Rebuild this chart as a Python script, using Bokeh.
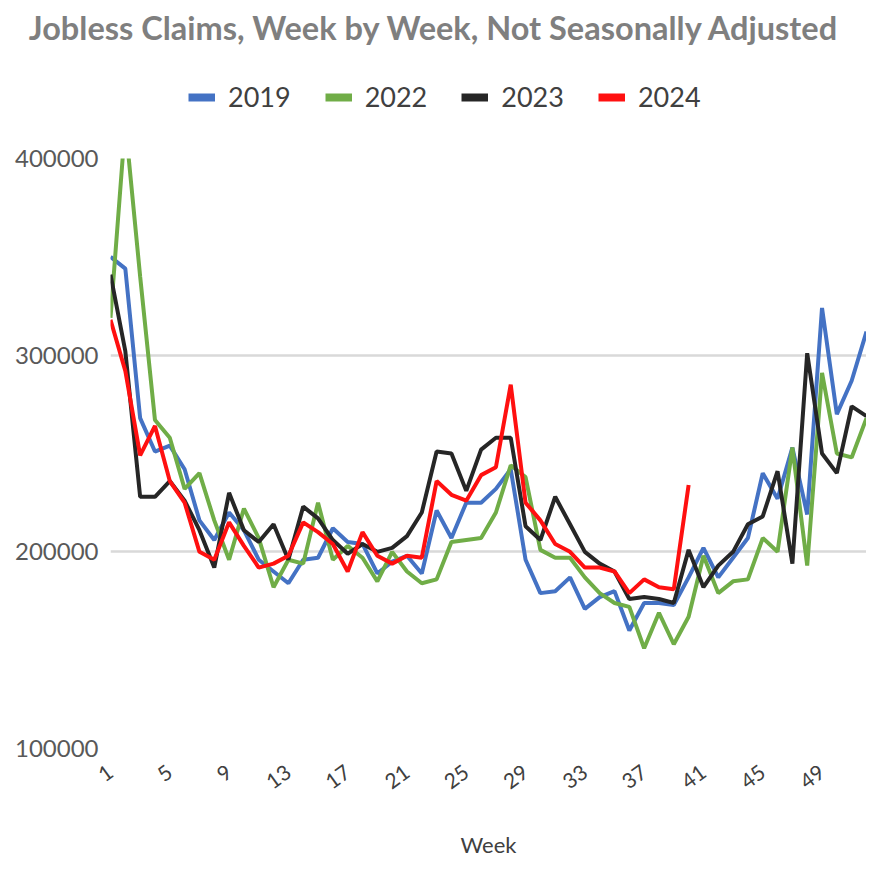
import math
from bokeh.plotting import figure
from bokeh.layouts import column
from bokeh.models import Range1d, FixedTicker, BasicTickFormatter, Legend, LegendItem, Label
from bokeh.embed import file_html
from bokeh.resources import INLINE

# ---- data (initial claims, not seasonally adjusted) ----
weeks = list(range(1, 53))

claims_2019 = [350000, 344000, 268000, 251000, 254000, 242000, 216000, 206000, 220000, 211000,
               196000, 190000, 184000, 196000, 197000, 212000, 205000, 204000, 189000, 195000,
               198000, 189000, 221000, 207000, 225000, 225000, 232000, 242000, 196000, 179000,
               180000, 187000, 171000, 177000, 180000, 160000, 174000, 174000, 173000, 187000,
               202000, 187000, 197000, 207000, 240000, 227000, 253000, 219000, 324000, 270000,
               287000, 312000]

claims_2022 = [319000, 418000, 340000, 267000, 258000, 232000, 240000, 216000, 196000, 222000,
               207000, 182000, 196000, 194000, 225000, 196000, 203000, 197000, 185000, 200000,
               190000, 184000, 186000, 205000, 206000, 207000, 220000, 244000, 238000, 201000,
               197000, 197000, 187000, 179000, 174000, 172000, 151000, 169000, 153000, 167000,
               198000, 179000, 185000, 186000, 207000, 200000, 253000, 193000, 291000, 250000,
               248000, 268000]

claims_2023 = [341000, 302000, 228000, 228000, 236000, 226000, 211000, 192000, 230000, 211000,
               205000, 214000, 196000, 223000, 217000, 206000, 199000, 204000, 200000, 202000,
               208000, 220000, 251000, 250000, 231000, 252000, 258000, 258000, 213000, 206000,
               228000, 214000, 200000, 194000, 190000, 176000, 177000, 176000, 174000, 201000,
               182000, 193000, 200000, 214000, 218000, 241000, 194000, 301000, 250000, 240000,
               274000, 269000]

claims_2024 = [318000, 292000, 249000, 264000, 236000, 225000, 200000, 196000, 215000, 203000,
               192000, 194000, 198000, 215000, 210000, 204000, 190000, 210000, 198000, 194000,
               198000, 197000, 236000, 229000, 226000, 239000, 243000, 285000, 225000, 216000,
               204000, 200000, 192000, 192000, 190000, 179000, 186000, 182000, 181000, 234000]
weeks_2024 = weeks[:len(claims_2024)]

series_names = ["2019", "2022", "2023", "2024"]
series_colors = ["#4472C4", "#70AD47", "#262626", "#FF1010"]

y_ticks = [100000, 200000, 300000, 400000]
x_ticks = list(range(1, 50, 4))

TITLE = "Jobless Claims, Week by Week, Not Seasonally Adjusted"
FONT = "Lato"
W = 866
HEAD_H = 130
MAIN_H = 861 - HEAD_H

# ---------------- header: title + legend ----------------
head = figure(width=W, height=HEAD_H, x_range=Range1d(0, 1), y_range=Range1d(0, 1),
              x_axis_type=None, y_axis_type=None, output_backend="svg",
              toolbar_location=None, min_border=0)
head.frame_align = False
head.outline_line_color = None
head.xgrid.grid_line_color = None
head.ygrid.grid_line_color = None

head.add_layout(Label(x=434, y=HEAD_H - 27, x_units="screen", y_units="screen",
                      text=TITLE, text_align="center", text_baseline="middle",
                      text_font=FONT, text_font_style="bold", text_font_size="32.5px",
                      text_color="#7f7f7f"))

items = []
for name, col in zip(series_names, series_colors):
    swatch = head.line(x=[float("nan")], y=[float("nan")], line_color=col, line_width=8)
    items.append(LegendItem(label=name, renderers=[swatch]))

legend = Legend(items=items, orientation="horizontal", location=(188, 17),
                glyph_width=27, glyph_height=30, label_standoff=13, spacing=34,
                padding=0, margin=0, border_line_color=None, background_fill_alpha=0,
                label_text_font=FONT, label_text_font_size="27px",
                label_text_color="#404040", label_height=30)
head.add_layout(legend, "center")

# ---------------- main chart ----------------
p = figure(width=W, height=MAIN_H,
           x_range=Range1d(1, 52), y_range=Range1d(100000, 400000),
           output_backend="svg", toolbar_location=None,
           min_border_left=110, min_border_right=0,
           min_border_top=158 - HEAD_H, min_border_bottom=113)
p.frame_align = False
p.outline_line_color = None

p.xgrid.grid_line_color = None
p.ygrid.ticker = FixedTicker(ticks=y_ticks)
p.ygrid.grid_line_color = "#d9d9d9"
p.ygrid.grid_line_width = 2.5

p.yaxis.ticker = FixedTicker(ticks=y_ticks)
p.yaxis.formatter = BasicTickFormatter(use_scientific=False)
p.yaxis.axis_line_color = None
p.yaxis.major_tick_line_color = None
p.yaxis.minor_tick_line_color = None
p.yaxis.major_label_text_font = FONT
p.yaxis.major_label_text_font_size = "24px"
p.yaxis.major_label_text_color = "#595959"
p.yaxis.major_label_standoff = 6

p.xaxis.ticker = FixedTicker(ticks=x_ticks)
p.xaxis.axis_line_color = None
p.xaxis.major_tick_line_color = None
p.xaxis.minor_tick_line_color = None
p.xaxis.major_label_orientation = math.pi / 5
p.xaxis.major_label_text_font = FONT
p.xaxis.major_label_text_font_size = "21px"
p.xaxis.major_label_text_color = "#404040"
p.xaxis.major_label_standoff = 15
p.xaxis.axis_label = "Week"
p.xaxis.axis_label_text_font = FONT
p.xaxis.axis_label_text_font_style = "normal"
p.xaxis.axis_label_text_font_size = "22px"
p.xaxis.axis_label_text_color = "#404040"
p.xaxis.axis_label_standoff = 32

all_x = [weeks, weeks, weeks, weeks_2024]
all_y = [claims_2019, claims_2022, claims_2023, claims_2024]
for col, xs, ys in zip(series_colors, all_x, all_y):
    p.line(xs, ys, line_color=col, line_width=4)

layout = column(head, p, spacing=0)
open("out.html", "w").write(file_html(layout, INLINE))
